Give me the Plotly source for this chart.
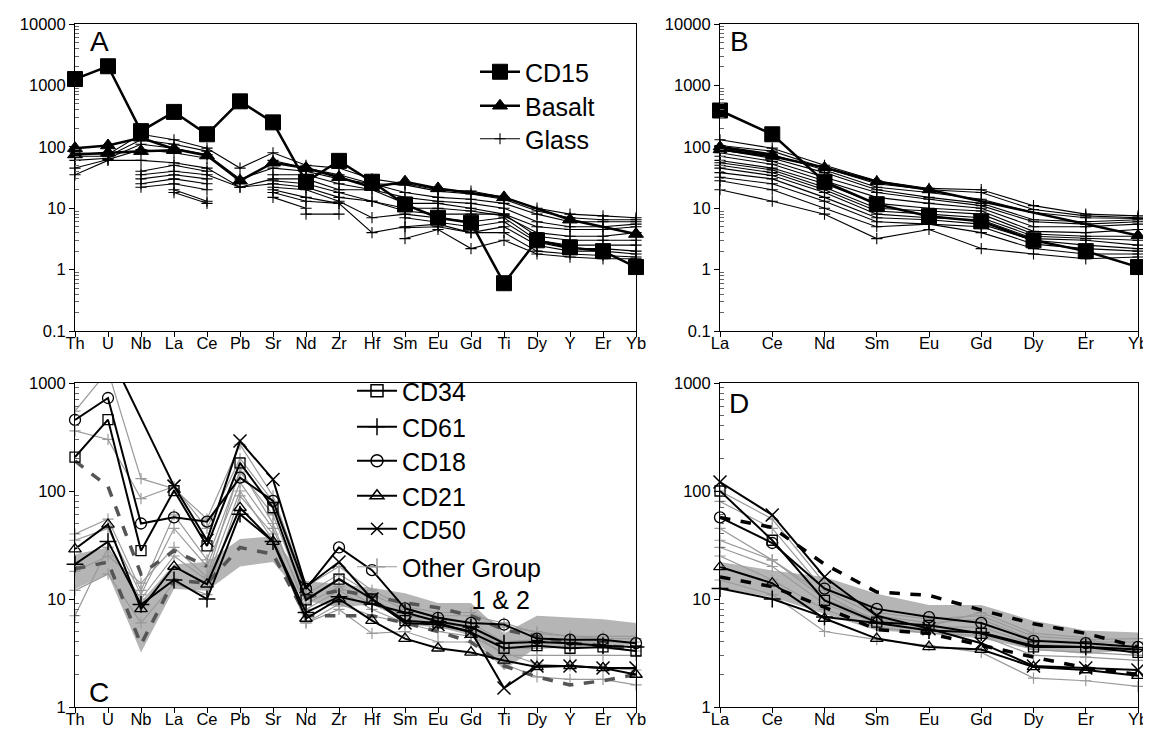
import plotly.graph_objects as go

# ---------------- categories ----------------
trace_elems = ["Th", "U", "Nb", "La", "Ce", "Pb", "Sr", "Nd", "Zr", "Hf",
               "Sm", "Eu", "Gd", "Ti", "Dy", "Y", "Er", "Yb"]
ree_elems = ["La", "Ce", "Nd", "Sm", "Eu", "Gd", "Dy", "Er", "Yb"]

N = None
# ---------------- Panel A (trace elements) ----------------
cd15_a = [1270, 2050, 180, 370, 160, 550, 250, 27, 59, 27, 11.5, 7.0, 5.8, 0.6, 3.0, 2.3, 2.0, 1.1]
basalt_a1 = [95, 105, 140, 92, 72, 28, 55, 45, 32, 22, 27, 21, N, 15, N, 6.5, N, 3.8]
basalt_a2 = [75, 80, 85, 88, N, N, N, N, N, N, N, N, N, N, N, N, N, N]
glass_a1 = [80, 75, 160, 130, 95, 45, 80, 50, 45, 30, 25, 20, 19, 15, 10, 8, 7.5, 7]
glass_a2 = [70, 70, 130, 110, 85, N, 60, 45, 35, 25, 24, 19, 17, 14, 9, 7, 6.5, 6.5]
glass_a3 = [60, 65, 110, 95, 75, 30, 45, 40, 30, 25, 18, 15, 14, 12, 8, 6, 6, 6]
glass_a4 = [45, 62, 90, 80, 65, N, 35, 35, 25, 20, 15, 13, 12, 10, 6, 5, 5, 5.5]
glass_a5 = [35, 60, 60, 55, 45, 22, 30, 30, 20, 20, 12, 12, 10, 8, 5, 4.5, 4.5, 5]
glass_a6 = [N, N, 40, 50, 40, N, 28, 25, 18, 13, 10, 10, 9, 7.5, 4, 3.5, 3.5, 4]
glass_a7 = [N, N, 35, 40, 35, 22, 25, 22, 15, 13, 9, 8, 8, 8, 3.5, 3, 3, 3]
glass_a8 = [N, N, 30, 35, 30, N, 22, 20, 13, 7, 8, 7, 6, 7, 3, 2.5, 2.5, 2.5]
glass_a9 = [N, N, 25, 30, 25, N, 20, 15, 12, N, 7, 6, 5, 6, 2.8, 2.2, 2.2, 2]
glass_a10 = [N, N, 22, 25, 20, N, 18, 13, 12, 4, 5, 5.5, 4, 5, 2.5, 2, 2, 1.8]
glass_a11 = [N, N, N, 20, 13, N, 15, 10, N, N, 4.8, 5, 4, 4, 2, 1.8, 1.7, 1.6]
glass_a12 = [N, N, N, 18, 12, N, N, 8, 8, N, 3.2, 4.5, 2.2, 3, 1.8, 1.6, 1.5, 1.5]

# ---------------- Panel B (REE) ----------------
cd15_b = [390, 160, 27, 11.6, 7.4, 6.1, 3.0, 2.0, 1.1]
basalt_b1 = [90, 70, 46, 27, 20, N, N, N, 3.6]
basalt_b2 = [100, 75, N, N, N, N, N, N, N]
glass_b1 = [130, 95, 50, 28, 21, 20, 11, 8, 7.5]
glass_b2 = [105, 85, 45, 25, 20, 18, 9.5, 7.5, 7]
glass_b3 = [95, 75, 42, 22, 18, 14, 8.5, 7, 6.8]
glass_b4 = [90, 65, 38, 20, 15, 12, 6.5, 6, 6.5]
glass_b5 = [80, 58, 32, 18, 14, 11, 6, 5.5, 6]
glass_b6 = [70, 52, 28, 15, 12, 10, 5, 5, 5.5]
glass_b7 = [60, 45, 25, 12, 10, 9, 4.2, 4, 4.5]
glass_b8 = [55, 42, 22, 10, 9, 8, 3.8, 3.5, 3.5]
glass_b9 = [50, 38, 20, 9, 8, 7, 3.5, 3.2, 3]
glass_b10 = [45, 34, 18, 8, 7, 6.5, 3.2, 3, 2.5]
glass_b11 = [38, 30, 15, 7, 6.5, 5.5, 3, 2.5, 2.2]
glass_b12 = [32, 25, 13, 6, 5.5, 5, 2.6, 2.2, 2]
glass_b13 = [28, 20, 10, 5, 5.5, 4, 2.2, 1.8, 1.8]
glass_b14 = [20, 13, 8, 3.2, 4.5, 2.2, 1.8, 1.5, 1.6]

# ---------------- Panel C (trace elements) ----------------
band_c_upper = [26, 30, 9.5, 21, 22, 36, 38, 14.7, 13.7, 12.7, 11.3, 9.2, 9.2, 4.8, 7.0, 6.7, 6.5, 6.0]
band_c_lower = [12.4, 17, 3.2, 12.4, 11.9, 20, 22, 9.6, 8.4, 8.9, 6.7, 5.5, 4.6, 2.2, 3.6, 3.6, 3.7, 3.8]
other_c1 = [550, 1300, 130, 105, 55, 270, 90, 13, 20, 12, 8.5, 7.5, 7.5, 5.5, 5, 4.5, 4.5, 4.5]
other_c2 = [360, 300, 85, 110, 45, 200, 80, 11, 17, 11, 8, 7, 7, 6, 4.8, 4.5, 4.3, 4.3]
other_c3 = [40, 55, 12, 60, 23, 150, 60, 10, 15, 10, 7, 6.5, 6, 4, 4.2, 4, 4, 4]
other_c4 = [35, 45, 11, 45, 20, 120, 45, 9, 13, 9, 6.5, 6, 5.5, 3.5, 3.5, 3.6, 3.5, 3.3]
other_c5 = [7, 30, 10, 25, 15, 100, 35, 6, 9, 7, 6, 5.5, 5, 3, 3, 3, 3, 3]
other_c6 = [12, 17, 6, 14, 11, 90, 40, 6, 8, 4.8, 5, 4, 4, 2.5, 1.9, 1.8, 1.8, 1.6]
other_c7 = [18, 25, 14, 30, 16, 160, 50, 8, 12, 8, 6, 5, 4.5, 3.2, 2.5, 2.4, 2.3, 2.2]
dash_c_upper = [190, 110, 17, 28, 20, N, N, 10.3, 12, 10.7, 9.2, 8.3, 7.0, 5.2, 4.5, 3.9, 3.7, 3.5]
dash_c_lower = [19, 22, 3.8, 15, 14, 30, 26, 7, 7, 7, 6.0, 5, 4.0, 2.4, 1.9, 1.6, 1.75, 2.0]
cd34_c = [206, 458, 28, 101, 31, 182, 70, 9.8, 15.3, 10, 6.3, 6.0, 4.9, 3.5, 3.7, 3.5, 3.6, 3.3]
cd61_c = [21, 34, 8.9, 15, 10, 61, 34, 7.5, 10.5, 9, 7.5, 6.2, 5.5, 3.9, 4.0, 3.9, 3.7, 3.6]
cd18_c = [455, 726, 50, 57, 52, 133, 81, 12.4, 30, 18.5, 8.2, 6.7, 6.0, 5.8, 4.3, 4.2, 4.2, 3.9]
cd21_c = [29, 49, 8.1, 20, 13.7, 70, 34, 6.6, 10, 6.3, 4.3, 3.5, 3.2, 2.7, 2.35, 2.4, 2.3, 2.0]
cd50_c = [N, 2000, N, 111, 35, 290, 128, 13, 22, 10, 6, 5.8, 5.0, 1.5, 2.4, 2.4, 2.3, 2.3]

# ---------------- Panel D (REE) ----------------
band_d_upper = [22, 18.4, 16, 11.2, 8.8, 8.8, 6.3, 5.1, 4.9]
band_d_lower = [12.5, 10.4, 7.3, 5.1, 4.8, 4.3, 3.4, 3.1, 3.4]
other_d1 = [100, 55, 14, 7.5, 6.5, 7.0, 4.5, 4.2, 4.3]
other_d2 = [80, 45, 12, 7, 6, 6.5, 4.2, 4, 4]
other_d3 = [45, 23, 10, 6.5, 5.5, 5.5, 3.8, 3.6, 3.5]
other_d4 = [30, 20, 9, 6, 5.2, 5, 3.4, 3.2, 3]
other_d5 = [25, 15, 8, 5.5, 4.8, 4.6, 3, 2.9, 2.7]
other_d6 = [15, 11, 5, 4.2, 3.7, 3.2, 1.85, 1.75, 1.55]
other_d7 = [35, 23, 11, 6.2, 5.6, 7.5, 4.8, 4.4, 3.0]
dash_d_upper = [57, 46, 21, 11.6, 10.8, 7.9, 5.9, 4.8, 3.6]
dash_d_lower = [16, 13, 8.4, 5.2, 4.8, 3.7, 2.9, 2.3, 2.0]
cd34_d = [100, 35, 9.7, 6.1, 5.7, 4.8, 3.6, 3.6, 3.2]
cd61_d = [12.5, 10, 6.8, 6.0, 5.1, 4.9, 3.7, 3.6, 3.4]
cd18_d = [57, 33, 12.5, 8.1, 6.8, 6.0, 4.1, 3.9, 3.6]
cd21_d = [19.8, 14, 6.6, 4.3, 3.6, 3.4, 2.35, 2.2, 1.95]
cd50_d = [121, 60, 16, 7.0, 5.3, 3.9, 2.4, 2.3, 2.2]

FONT = "Liberation Sans, Arial, sans-serif"
W, H = 1151, 731
fig = go.Figure()


def add(xa, ya, vals, color="black", width=1.0, symbol=None, size=8, mline=1.0,
        dash=None, name=None, legend=None, connect=False, clip=False):
    x = list(range(len(vals)))
    mode = "lines+markers" if symbol else "lines"
    tr = go.Scatter(
        x=x, y=vals, mode=mode, xaxis=xa, yaxis=ya,
        line=dict(color=color, width=width, dash=dash),
        connectgaps=connect, cliponaxis=clip,
        showlegend=legend is not None, name=name or "",
        hoverinfo="skip",
    )
    if legend:
        tr.legend = legend
    if symbol:
        tr.marker = dict(symbol=symbol, size=size, color=color,
                         line=dict(color=color, width=mline))
    fig.add_trace(tr)


def band(xa, ya, upper, lower, color="#b5b5b5"):
    xs = list(range(len(upper))) + list(range(len(lower)))[::-1]
    ys = list(upper) + list(lower)[::-1]
    fig.add_trace(go.Scatter(x=xs, y=ys, xaxis=xa, yaxis=ya, mode="lines",
                             fill="toself", fillcolor=color,
                             line=dict(width=0, color=color),
                             showlegend=False, hoverinfo="skip"))


# ---- Panel A ----
glass_a = [glass_a1, glass_a2, glass_a3, glass_a4, glass_a5, glass_a6,
           glass_a7, glass_a8, glass_a9, glass_a10, glass_a11, glass_a12]
for i, g in enumerate(glass_a):
    add("x", "y", g, width=1.1, symbol="cross-thin-open", size=8, mline=1.1,
        name="Glass" if i == 0 else None, legend="legend3" if i == 0 else None)
add("x", "y", basalt_a2, width=2.5, symbol="triangle-up", size=13, connect=True)
add("x", "y", basalt_a1, width=2.5, symbol="triangle-up", size=13, connect=True,
    name="Basalt", legend="legend2")
add("x", "y", cd15_a, width=2.5, symbol="square", size=15, name="CD15", legend="legend")

# ---- Panel B ----
glass_b = [glass_b1, glass_b2, glass_b3, glass_b4, glass_b5, glass_b6, glass_b7,
           glass_b8, glass_b9, glass_b10, glass_b11, glass_b12, glass_b13, glass_b14]
for g in glass_b:
    add("x2", "y2", g, width=1.1, symbol="cross-thin-open", size=8, mline=1.1)
add("x2", "y2", basalt_b2, width=2.5, symbol="triangle-up", size=12, connect=True)
add("x2", "y2", basalt_b1, width=2.5, symbol="triangle-up", size=12, connect=True)
add("x2", "y2", cd15_b, width=2.5, symbol="square", size=15)

# ---- Panel C ----
band("x3", "y3", band_c_upper, band_c_lower)
others_c = [other_c1, other_c2, other_c3, other_c4, other_c5, other_c6, other_c7]
for i, o in enumerate(others_c):
    add("x3", "y3", o, color="#9a9a9a", width=1.2, symbol="cross-thin-open", size=8,
        mline=1.2, clip=(i == 0))
add("x3", "y3", dash_c_upper, color="#555555", width=3.5, dash="dash")
add("x3", "y3", dash_c_lower, color="#555555", width=3.5, dash="dash")
add("x3", "y3", cd34_c, width=2, symbol="square-open", size=10, mline=1.3)
add("x3", "y3", cd61_c, width=2, symbol="cross-thin-open", size=12, mline=1.5)
add("x3", "y3", cd18_c, width=2, symbol="circle-open", size=11, mline=1.3)
add("x3", "y3", cd21_c, width=2, symbol="triangle-up-open", size=11, mline=1.3)
add("x3", "y3", cd50_c, width=2, symbol="x-thin-open", size=13, mline=1.5,
    connect=True, clip=True)

# legend-only entries for panel C, one legend box each
leg_c = [("CD34", "square-open", "black", 2), ("CD61", "cross-thin-open", "black", 2),
         ("CD18", "circle-open", "black", 2), ("CD21", "triangle-up-open", "black", 2),
         ("CD50", "x-thin-open", "black", 2),
         ("Other Group<br>\u00a0\u00a0\u00a0\u00a0\u00a0\u00a0\u00a0\u00a0\u00a0\u00a01 & 2",
          "cross-thin-open", "#9a9a9a", 1.2)]
for k, (nm, sym, col, w) in enumerate(leg_c):
    fig.add_trace(go.Scatter(x=[None], y=[None], xaxis="x3", yaxis="y3",
                             mode="lines+markers", name=nm, legend="legend%d" % (k + 4),
                             line=dict(color=col, width=w),
                             marker=dict(symbol=sym, size=12, color=col,
                                         line=dict(color=col, width=1.5))))

# ---- Panel D ----
band("x4", "y4", band_d_upper, band_d_lower)
others_d = [other_d1, other_d2, other_d3, other_d4, other_d5, other_d6, other_d7]
for o in others_d:
    add("x4", "y4", o, color="#9a9a9a", width=1.2, symbol="cross-thin-open", size=8, mline=1.2)
add("x4", "y4", dash_d_upper, color="black", width=3.5, dash="dash")
add("x4", "y4", dash_d_lower, color="black", width=3.5, dash="dash")
add("x4", "y4", cd34_d, width=2, symbol="square-open", size=10, mline=1.3)
add("x4", "y4", cd61_d, width=2, symbol="cross-thin-open", size=12, mline=1.5)
add("x4", "y4", cd18_d, width=2, symbol="circle-open", size=11, mline=1.3)
add("x4", "y4", cd21_d, width=2, symbol="triangle-up-open", size=11, mline=1.3)
add("x4", "y4", cd50_d, width=2, symbol="x-thin-open", size=13, mline=1.5)

# ---------------- axes ----------------
xA = [67 / W, 628 / W]
xB = [712 / W, 1130 / W]
yTop = [1 - 323 / H, 1 - 16 / H]
yBot = [1 - 699 / H, 1 - 375 / H]


def xax(domain, labels, anchor):
    return dict(domain=domain, anchor=anchor, range=[0, len(labels) - 1],
                tickmode="array", tickvals=list(range(len(labels))), ticktext=labels,
                ticks="outside", ticklen=5, tickcolor="black", tickwidth=1,
                ticklabelstandoff=-8, ticklabeloverflow="allow",
                showline=True, linecolor="black", linewidth=1, mirror=True,
                showgrid=False, zeroline=False, automargin=False,
                tickfont=dict(size=16.5, color="black", family=FONT))


def yax(domain, lo, hi, texts, anchor):
    vals = [10 ** e for e in range(lo, hi + 1)]
    minor_vals = [k * 10 ** e for e in range(lo, hi) for k in range(2, 10)]
    return dict(type="log", domain=domain, anchor=anchor, range=[lo, hi],
                tickmode="array", tickvals=vals, ticktext=texts,
                ticks="outside", ticklen=5, tickcolor="black",
                ticklabeloverflow="allow",
                minor=dict(tickmode="array", tickvals=minor_vals, ticks="inside",
                           ticklen=4, tickcolor="#666666", showgrid=False),
                showline=True, linecolor="black", linewidth=1, mirror=True,
                showgrid=False, zeroline=False, automargin=False,
                tickfont=dict(size=16.5, color="black", family=FONT))


top_txt = ["0.1", "1", "10", "100", "1000", "10000"]
bot_txt = ["1", "10", "100", "1000"]


def leg(x_px, top_px):
    return dict(x=x_px / W, y=1 - top_px / H, xanchor="left", yanchor="top",
                bgcolor="rgba(0,0,0,0)", font=dict(size=25, family=FONT, color="black"),
                itemwidth=40, valign="top")


def letter(t, x_px, y_px):
    return dict(text=t, x=x_px / W, y=1 - y_px / H, xref="paper", yref="paper",
                showarrow=False, xanchor="left", yanchor="middle",
                font=dict(size=28, family=FONT, color="black"))


layout_legends = {
    "legend": leg(467, 41), "legend2": leg(467, 75), "legend3": leg(467, 108),
    "legend4": leg(344, 360), "legend5": leg(344, 396), "legend6": leg(344, 430),
    "legend7": leg(344, 465), "legend8": leg(344, 498), "legend9": leg(344, 536),
}

fig.update_layout(
    width=W, height=H, margin=dict(l=0, r=0, t=0, b=0, autoexpand=False),
    paper_bgcolor="white", plot_bgcolor="white",
    font=dict(family=FONT, color="black"),
    xaxis=xax(xA, trace_elems, "y"),
    yaxis=yax(yTop, -1, 4, top_txt, "x"),
    xaxis2=xax(xB, ree_elems, "y2"),
    yaxis2=yax(yTop, -1, 4, top_txt, "x2"),
    xaxis3=xax(xA, trace_elems, "y3"),
    yaxis3=yax(yBot, 0, 3, bot_txt, "x3"),
    xaxis4=xax(xB, ree_elems, "y4"),
    yaxis4=yax(yBot, 0, 3, bot_txt, "x4"),
    annotations=[letter("A", 80, 34), letter("B", 720, 34),
                 letter("C", 79, 684), letter("D", 719, 395)],
    **layout_legends,
)

fig.write_html("out.html")
